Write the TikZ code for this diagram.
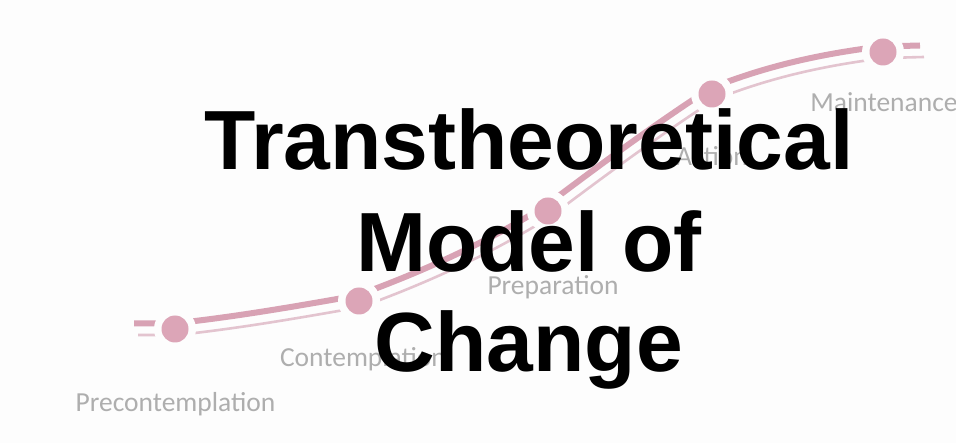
\documentclass[tikz,border=0pt]{standalone}
\usepackage{fontspec}
\newfontfamily\titlefont{Liberation Sans}[BoldFont={* Bold}]
\newfontfamily\labelfont{Carlito}
\definecolor{bgcol}{HTML}{FDFDFD}
\definecolor{dotcol}{HTML}{DCA5B7}
\definecolor{thickcol}{HTML}{D8A2B4}
\definecolor{thincol}{HTML}{E3C4CF}
\definecolor{labcol}{HTML}{AEAEAE}
\tikzset{
  stagedot/.style={circle, fill=dotcol, inner sep=0pt, minimum size=27pt},
  gapdisc/.style={fill=bgcol, draw=none},
  thickline/.style={draw=thickcol, line width=6pt},
  thinline/.style={draw=thincol, line width=2.6pt},
  stagelabel/.style={anchor=base, inner sep=0pt, text=labcol, font=\labelfont\fontsize{27.5}{30}\selectfont},
  titleline/.style={anchor=base, inner sep=0pt, text=black, font=\titlefont\bfseries\fontsize{84}{101}\selectfont}
}
\begin{document}
\begin{tikzpicture}[x=1pt,y=-1pt]
\useasboundingbox (0,0) rectangle (956,443);
\fill[bgcol] (0,0) rectangle (956,443);
% stage positions
\coordinate (e0) at (136,329);
\coordinate (p0) at (175,329);
\coordinate (p1) at (359,301);
\coordinate (p2) at (548,211);
\coordinate (p3) at (712,94);
\coordinate (p4) at (883,52);
\coordinate (e1) at (922,51);
% double S-curve
\def\stagecurve{(e0) -- (p0) .. controls (236.7,322.5) and (297.9,311.8) .. (p1)
  .. controls (424.8,277.1) and (488.6,248.1) .. (p2)
  .. controls (601.5,170.7) and (655.8,130.5) .. (p3)
  .. controls (767.6,71.5) and (823.4,59.3) .. (p4) -- (e1)}
\begin{scope}[transform canvas={shift={(-2pt,5.5pt)}}]
  \path[thickline] \stagecurve;
\end{scope}
\begin{scope}[transform canvas={shift={(2pt,-6pt)}}]
  \path[thinline] \stagecurve;
\end{scope}
% gaps around the dots
\foreach \p in {p0,p1,p2,p3,p4} {
  \fill[gapdisc] (\p) circle[radius=21];
}
% dots
\node[stagedot] (d0) at (p0) {};
\node[stagedot] (d1) at (p1) {};
\node[stagedot] (d2) at (p2) {};
\node[stagedot] (d3) at (p3) {};
\node[stagedot] (d4) at (p4) {};
% stage labels
\node[stagelabel] (l0) at (175.5,412) {Precontemplation};
\node[stagelabel] (l1) at (363,367) {Contemplation};
\node[stagelabel] (l2) at (553,295) {Preparation};
\node[stagelabel] (l3) at (712,166) {Action};
\node[stagelabel] (l4) at (884,112) {Maintenance};
% title
\node[titleline] (t1) at (529,170) {Transtheoretical};
\node[titleline] (t2) at (529,272) {Model of};
\node[titleline] (t3) at (529,372) {Change};
\end{tikzpicture}
\end{document}
